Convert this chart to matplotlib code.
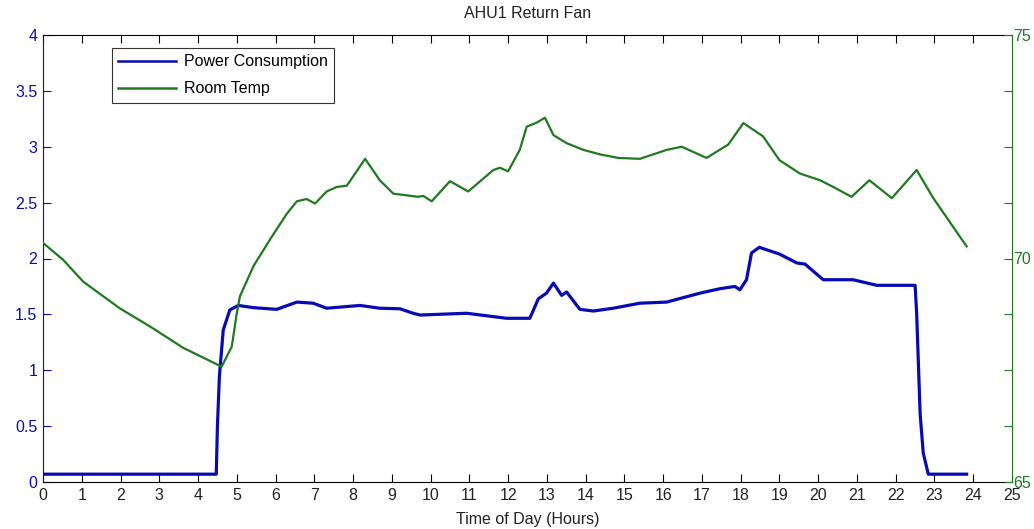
import matplotlib
matplotlib.use('Agg')
import matplotlib.pyplot as plt
from matplotlib.ticker import FixedLocator, FuncFormatter

plt.rcParams['font.family'] = ['Liberation Sans', 'DejaVu Sans']

# Power consumption (left axis)
power_hours = [0.0, 4.47, 4.50, 4.55, 4.65, 4.82, 5.04, 5.43, 6.03, 6.55, 6.97, 7.32,
               8.18, 8.69, 9.21, 9.55, 9.73, 10.93, 11.96, 12.56, 12.78, 12.99, 13.17,
               13.38, 13.51, 13.85, 14.2, 14.71, 15.4, 16.09, 16.95, 17.47, 17.85, 17.98,
               18.15, 18.28, 18.48, 19.0, 19.45, 19.66, 20.13, 20.9, 21.51, 22.5, 22.54,
               22.63, 22.71, 22.84, 23.83]
power = [0.07, 0.07, 0.5, 0.94, 1.36, 1.54, 1.58, 1.56, 1.545, 1.61, 1.60, 1.555,
         1.58, 1.555, 1.55, 1.51, 1.494, 1.51, 1.465, 1.465, 1.64, 1.69, 1.78,
         1.67, 1.70, 1.545, 1.53, 1.555, 1.60, 1.61, 1.69, 1.73, 1.75, 1.72,
         1.81, 2.05, 2.10, 2.04, 1.96, 1.95, 1.81, 1.81, 1.76, 1.76, 1.51,
         0.61, 0.26, 0.07, 0.07]

# Room temperature (right axis)
temp_hours = [0.0, 0.52, 1.04, 1.99, 2.76, 3.62, 4.61, 4.87, 5.0, 5.08, 5.43, 5.86,
              6.29, 6.55, 6.8, 7.02, 7.32, 7.58, 7.84, 8.31, 8.69, 9.04, 9.68, 9.81,
              10.03, 10.5, 10.97, 11.62, 11.79, 12.0, 12.3, 12.48, 12.74, 12.95, 13.17,
              13.51, 13.94, 14.37, 14.84, 15.4, 16.09, 16.48, 17.12, 17.68, 18.07, 18.58,
              19.0, 19.53, 20.05, 20.39, 20.86, 21.32, 21.9, 22.54, 22.97, 23.83]
temp = [70.35, 69.97, 69.48, 68.88, 68.48, 68.0, 67.58, 68.03, 68.78, 69.15, 69.83, 70.43,
        71.0, 71.28, 71.33, 71.23, 71.5, 71.6, 71.63, 72.23, 71.75, 71.45, 71.38, 71.4,
        71.28, 71.73, 71.5, 71.98, 72.03, 71.95, 72.43, 72.95, 73.04, 73.15, 72.76,
        72.58, 72.43, 72.33, 72.25, 72.23, 72.43, 72.5, 72.25, 72.55, 73.03, 72.73,
        72.2, 71.9, 71.75, 71.6, 71.38, 71.75, 71.35, 71.98, 71.35, 70.27]

x_ticks = list(range(0, 26))
left_ticks = [0, 0.5, 1, 1.5, 2, 2.5, 3, 3.5, 4]
right_ticks = [65 + 1.25 * i for i in range(9)]

blue = '#0a0ab4'
green = '#1f7a1f'

fig = plt.figure(figsize=(10.34, 5.29), dpi=100)
ax = fig.add_axes([43 / 1034, 47 / 529, 969 / 1034, 447 / 529])
ax2 = ax.twinx()

l1, = ax.plot(power_hours, power, color=blue, linewidth=2.3, label='Power Consumption')
l2, = ax2.plot(temp_hours, temp, color=green, linewidth=1.6, label='Room Temp')

ax.set_xlim(0, 25)
ax.set_ylim(0, 4)
ax2.set_ylim(65, 75)

ax.xaxis.set_major_locator(FixedLocator(x_ticks))
ax.yaxis.set_major_locator(FixedLocator(left_ticks))
ax.yaxis.set_major_formatter(FuncFormatter(lambda v, p: '%g' % v))
ax2.yaxis.set_major_locator(FixedLocator(right_ticks))
ax2.yaxis.set_major_formatter(FuncFormatter(lambda v, p: '%g' % v if v in (65, 70, 75) else ''))

ax.tick_params(axis='x', direction='in', top=True, length=6, width=0.8, pad=4,
               labelsize=11.5, color='black', labelcolor='#222222')
ax.tick_params(axis='y', direction='in', length=6, width=0.8, pad=4,
               labelsize=11.5, colors=blue)
ax2.tick_params(axis='y', direction='in', length=6, width=0.8, pad=1,
                labelsize=11.5, colors=green)

ax.spines['left'].set_color(blue)
ax.spines['right'].set_visible(False)
ax2.spines['right'].set_color(green)
ax2.spines['left'].set_visible(False)
ax2.spines['top'].set_visible(False)
ax2.spines['bottom'].set_visible(False)

ax.set_title('AHU1 Return Fan', fontsize=11.5, pad=12, color='#222222')
ax.set_xlabel('Time of Day (Hours)', fontsize=11.5, labelpad=7, color='#222222')

leg = ax2.legend(handles=[l1, l2], loc='upper left', bbox_to_anchor=(69 / 969, 1 - 13 / 447),
                 fontsize=11.5, frameon=True, fancybox=False, borderaxespad=0,
                 handlelength=3.6, handletextpad=0.5, borderpad=0.4, labelspacing=0.75)
leg.get_frame().set_edgecolor('black')
leg.get_frame().set_linewidth(0.8)
for line in leg.get_lines():
    line.set_linewidth(1.8)

fig.savefig('out.png', dpi=100)
